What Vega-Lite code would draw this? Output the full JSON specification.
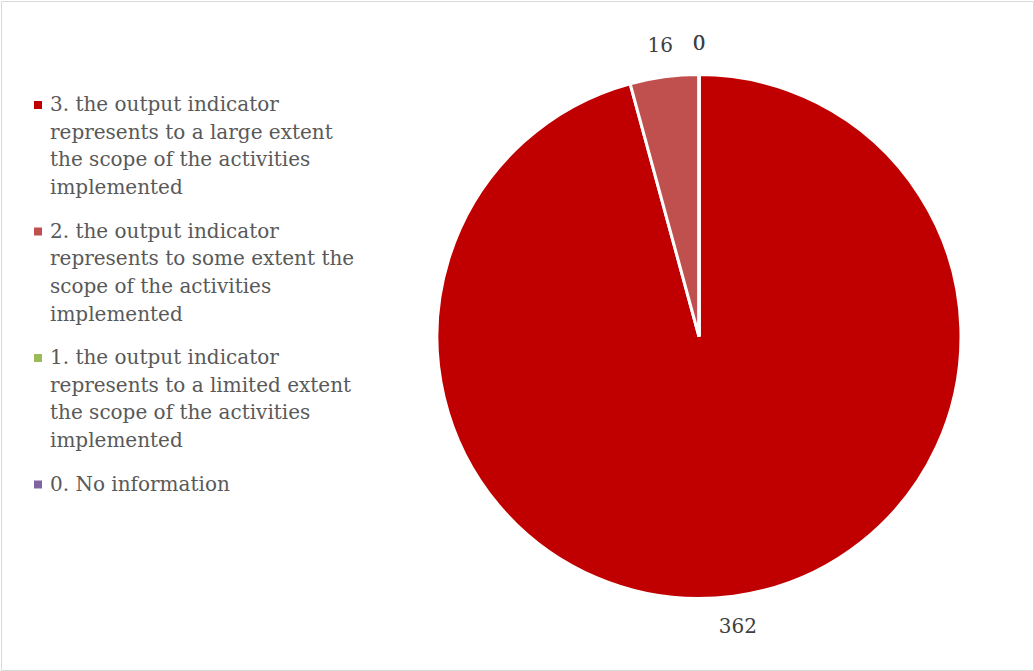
{
  "$schema": "https://vega.github.io/schema/vega-lite/v6.json",
  "width": 1032,
  "height": 669,
  "autosize": "none",
  "padding": 1,
  "background": "white",
  "view": {"stroke": "#d9d9d9", "strokeWidth": 1, "fill": "white"},
  "config": {
    "view": {"stroke": "#d9d9d9", "strokeWidth": 1},
    "style": {"guide-label": {"lineHeight": 27.7}}
  },
  "data": {
    "values": [
      {"category": "3. the output indicator represents to a large extent the scope of the activities implemented", "value": 362, "order": 1},
      {"category": "2. the output indicator represents to some extent the scope of the activities implemented", "value": 16, "order": 2},
      {"category": "1. the output indicator represents to a limited extent the scope of the activities implemented", "value": 0, "order": 3},
      {"category": "0. No information", "value": 0, "order": 4}
    ]
  },
  "encoding": {
    "theta": {"field": "value", "type": "quantitative", "stack": true},
    "order": {"field": "order", "type": "quantitative"}
  },
  "layer": [
    {
      "mark": {"type": "arc", "outerRadius": 262, "stroke": "white", "strokeWidth": 3, "xOffset": 182, "yOffset": 1},
      "encoding": {
        "color": {
          "field": "category",
          "type": "nominal",
          "sort": {"field": "order"},
          "scale": {
            "domain": [
              "3. the output indicator represents to a large extent the scope of the activities implemented",
              "2. the output indicator represents to some extent the scope of the activities implemented",
              "1. the output indicator represents to a limited extent the scope of the activities implemented",
              "0. No information"
            ],
            "range": ["#C00000", "#C0504D", "#9BBB59", "#8064A2"]
          },
          "legend": {
            "title": null,
            "orient": "none",
            "legendX": 27,
            "legendY": 94,
            "symbolType": "square",
            "symbolSize": 64,
            "symbolStrokeWidth": 0,
            "labelFont": "DejaVu Serif",
            "labelFontSize": 20,
            "labelColor": "#595959",
            "labelLimit": 400,
            "labelOffset": 2,
            "labelBaseline": "middle",
            "rowPadding": 22.5,
            "labelExpr": "slice(datum.label,0,1)=='3' ? ['3. the output indicator','represents to a large extent','the scope of the activities','implemented'] : slice(datum.label,0,1)=='2' ? ['2. the output indicator','represents to some extent the','scope of the activities','implemented'] : slice(datum.label,0,1)=='1' ? ['1. the output indicator','represents to a limited extent','the scope of the activities','implemented'] : datum.label"
          }
        }
      }
    },
    {
      "mark": {"type": "text", "radius": 293, "font": "DejaVu Serif", "fontSize": 20, "color": "#404040", "xOffset": 182, "yOffset": 1},
      "encoding": {
        "text": {"field": "value", "type": "quantitative"}
      }
    }
  ]
}
